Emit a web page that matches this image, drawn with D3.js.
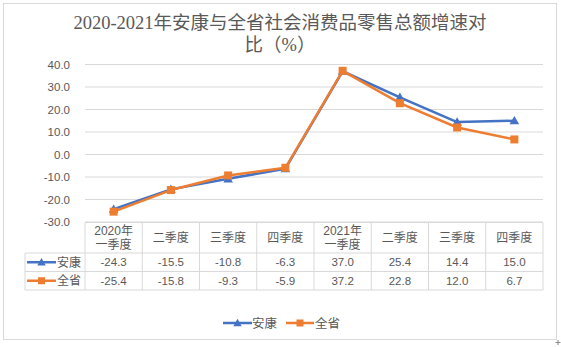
<!DOCTYPE html>
<html><head><meta charset="utf-8">
<script src="https://cdn.jsdelivr.net/npm/d3@7"></script>
<style>
html,body{margin:0;padding:0;background:#fff;}
svg{display:block;font-family:"Liberation Sans","Noto Sans CJK SC",sans-serif;}
</style></head>
<body>
<svg id="c" width="561" height="347"></svg>
<script>
const categories = ["2020年\n一季度","二季度","三季度","四季度","2021年\n一季度","二季度","三季度","四季度"];
const seriesNames = ["安康","全省"];
const ankang = [-24.3,-15.5,-10.8,-6.3,37.0,25.4,14.4,15.0];
const quansheng = [-25.4,-15.8,-9.3,-5.9,37.2,22.8,12.0,6.7];
const yTicks = [-30,-20,-10,0,10,20,30,40];
const titleLines = ["2020-2021年安康与全省社会消费品零售总额增速对","比（%）"];

const colors = ["#4472C4","#ED7D31"];
const series = [ankang, quansheng];
const grid = "#d9d9d9", txt = "#595959";
const fmt = v => d3.format(".1f")(v).replace("−","-");

const svg = d3.select("#c");
// outer frame
svg.append("rect").attr("x",3.5).attr("y",3.5).attr("width",553).attr("height",336)
  .attr("fill","#fff").attr("stroke",grid);

// title
const tf = "'Liberation Serif','Noto Sans CJK SC',serif";
svg.append("text").attr("x",280).attr("y",29).attr("text-anchor","middle").attr("font-family",tf)
  .attr("font-size",18.5).attr("fill",txt).text(titleLines[0]);
svg.append("text").attr("x",280).attr("y",51).attr("text-anchor","middle").attr("font-family",tf)
  .attr("font-size",18.5).attr("fill",txt).text(titleLines[1]);

const x = d3.scaleBand().domain(d3.range(categories.length)).range([85,543]);
const y = d3.scaleLinear().domain([-30,40]).range([222,64.5]);

// gridlines
svg.append("g").selectAll("line").data(yTicks).join("line")
  .attr("x1",85).attr("x2",543).attr("y1",d=>y(d)).attr("y2",d=>y(d))
  .attr("stroke",grid).attr("stroke-width",1);

// y axis labels
const yAxis = d3.axisLeft(y).tickValues(yTicks).tickFormat(fmt).tickSize(0).tickPadding(15);
const ga = svg.append("g").attr("transform","translate(85,0)").call(yAxis);
ga.select(".domain").remove();
ga.selectAll("text").attr("font-size",11.5).attr("fill",txt)
  .attr("font-family","'Liberation Sans','Noto Sans CJK SC',sans-serif");

// table
const tTop = 222.5, tHead = 253, tR1 = 271.5, tBot = 290;
const tg = svg.append("g");
const bounds = d3.range(categories.length+1).map(i=> i<categories.length ? x(i) : x.range()[1]);
tg.append("line").attr("x1",85).attr("x2",543).attr("y1",tTop).attr("y2",tTop).attr("stroke",grid);
[tHead,tR1,tBot].forEach(yy=>tg.append("line").attr("x1",25).attr("x2",543).attr("y1",yy).attr("y2",yy).attr("stroke",grid));
bounds.forEach(bx=>tg.append("line").attr("x1",bx).attr("x2",bx).attr("y1",tTop).attr("y2",tBot).attr("stroke",grid));
tg.append("line").attr("x1",25).attr("x2",25).attr("y1",tHead).attr("y2",tBot).attr("stroke",grid);

// header labels
categories.forEach((c,i)=>{
  const lines = c.split("\n");
  const cx = x(i)+x.bandwidth()/2;
  if(lines.length===1){
    tg.append("text").attr("text-anchor","middle").attr("font-size",12).attr("fill",txt)
      .attr("x",cx).attr("y",(tTop+tHead)/2+4.5).text(lines[0]);
  } else {
    lines.forEach((l,k)=>tg.append("text").attr("text-anchor","middle").attr("font-size",12).attr("fill",txt)
      .attr("x",cx).attr("y",tTop+12+k*14).text(l));
  }
});
// values
series.forEach((s,si)=>{
  const cy = si===0 ? (tHead+tR1)/2 : (tR1+tBot)/2;
  s.forEach((v,i)=>{
    tg.append("text").attr("x",x(i)+x.bandwidth()/2).attr("y",cy+4.2)
      .attr("text-anchor","middle").attr("font-size",11.5).attr("fill",txt)
      .text(fmt(v));
  });
});

function marker(g, si, cx, cy, sz){
  if(si===0){
    const h = sz;
    g.append("path").attr("d",`M${cx},${cy-h*0.6}L${cx+h*0.6},${cy+h*0.45}L${cx-h*0.6},${cy+h*0.45}Z`)
      .attr("fill",colors[0]);
  } else {
    g.append("rect").attr("x",cx-sz/2).attr("y",cy-sz/2).attr("width",sz).attr("height",sz).attr("fill",colors[1]);
  }
}
// table legend keys
series.forEach((s,si)=>{
  const cy = si===0 ? (tHead+tR1)/2 : (tR1+tBot)/2;
  tg.append("line").attr("x1",27).attr("x2",56).attr("y1",cy).attr("y2",cy)
    .attr("stroke",colors[si]).attr("stroke-width",2.5);
  marker(tg, si, 41.5, cy, 7);
  tg.append("text").attr("x",57).attr("y",cy+4.5).attr("font-size",12).attr("fill",txt).text(seriesNames[si]);
});

// lines
const line = d3.line().x((d,i)=>x(i)+x.bandwidth()/2).y(d=>y(d));
series.forEach((s,si)=>{
  const g = svg.append("g");
  g.append("path").attr("d",line(s)).attr("fill","none").attr("stroke",colors[si])
    .attr("stroke-width",2.5).attr("stroke-linejoin","round");
  s.forEach((v,i)=>marker(g, si, x(i)+x.bandwidth()/2, y(v), 8));
});

// bottom legend
const lg = svg.append("g");
const items = [{x1:223,x2:252,tx:252},{x1:286,x2:314,tx:315}];
items.forEach((it,si)=>{
  lg.append("line").attr("x1",it.x1).attr("x2",it.x2).attr("y1",323).attr("y2",323)
    .attr("stroke",colors[si]).attr("stroke-width",2.5);
  marker(lg, si, (it.x1+it.x2)/2, 323, 7);
  lg.append("text").attr("x",it.tx).attr("y",328).attr("font-size",12.5).attr("fill",txt).text(seriesNames[si]);
});

// corner handle
svg.append("path").attr("d","M555.5,342.5h5M558,340v5").attr("stroke","#888").attr("stroke-width",1);
</script>
</body></html>
